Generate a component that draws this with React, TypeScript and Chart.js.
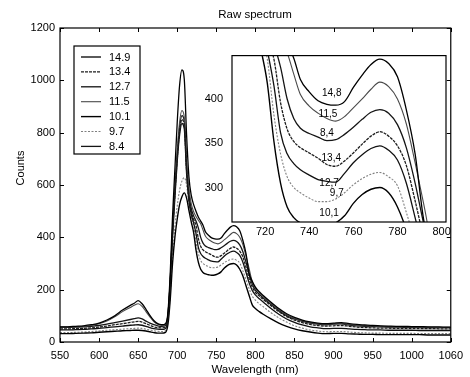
import React, { useEffect, useRef } from 'react';
import { Chart, registerables } from 'chart.js';

Chart.register(...registerables);

// ---------- data ----------
const wavelengths = [550, 560, 570, 580, 590, 600, 610, 620, 630, 640,
  645, 650, 655, 660, 665, 670, 675, 680, 685,
  688, 691, 694, 697, 700, 703, 706, 709, 712, 715, 718, 721, 724, 727, 730, 733, 736,
  740, 744, 748, 752, 756, 760, 764, 768, 772, 776, 780, 784, 788, 792, 796, 800,
  805, 810,
  820, 830, 840, 850, 860, 870, 880, 890, 900, 910, 920, 930, 940, 950, 960, 970, 980, 990, 1000, 1010, 1020, 1030, 1040, 1050];

const s149 = [58, 58, 60, 62, 66, 72, 84, 100, 122, 140,
  148, 158, 146, 125, 102, 82, 70, 66, 70,
  110, 260, 480, 660, 840, 980, 1040, 1005, 790, 630, 560, 525, 500, 478, 462, 446, 422,
  408, 398, 394, 393, 397, 413, 427, 439, 445, 440, 425, 388, 338, 262, 232, 210,
  192, 178,
  152, 128, 108, 94, 84, 77, 72, 70, 72, 74, 70, 67, 65, 63, 62, 61, 60, 60, 59, 59, 58, 58, 57, 57];

const s134 = [50, 50, 51, 52, 54, 57, 61, 66, 70, 75,
  77, 79, 76, 70, 64, 58, 55, 54, 57,
  95, 225, 415, 565, 700, 805, 850, 830, 655, 550, 498, 468, 445, 396, 366, 352, 345,
  339, 333, 326, 324, 330, 339, 349, 358, 363, 358, 347, 325, 285, 242, 210, 190,
  176, 163,
  139, 116, 97, 84, 74, 67, 63, 61, 62, 63, 60, 57, 55, 54, 53, 53, 52, 52, 52, 51, 51, 51, 50, 50];

const s127 = [46, 46, 47, 48, 50, 52, 55, 58, 61, 64,
  65, 66, 64, 60, 55, 51, 49, 48, 52,
  88, 215, 400, 550, 690, 790, 835, 815, 642, 540, 488, 455, 415, 362, 338, 327, 320,
  314, 309, 307, 306, 316, 328, 337, 344, 347, 342, 331, 305, 266, 226, 197, 180,
  165, 153,
  128, 106, 88, 75, 65, 58, 54, 51, 52, 52, 50, 48, 47, 46, 46, 45, 45, 45, 45, 44, 44, 44, 44, 44];

const s115 = [57, 57, 58, 60, 63, 70, 80, 96, 116, 132,
  140, 146, 136, 116, 96, 78, 68, 64, 68,
  105, 240, 440, 590, 730, 840, 885, 860, 690, 585, 528, 498, 480, 465, 452, 428, 405,
  392, 384, 378, 375, 380, 390, 400, 411, 419, 414, 400, 372, 328, 280, 230, 205,
  188, 173,
  148, 124, 104, 91, 81, 74, 70, 68, 70, 71, 67, 64, 62, 61, 60, 59, 58, 58, 57, 57, 57, 56, 56, 56];

const s101 = [32, 32, 33, 34, 35, 37, 39, 41, 43, 44,
  45, 45, 44, 42, 39, 36, 34, 34, 37,
  65, 160, 300, 400, 470, 525, 555, 570, 550, 502, 458, 418, 352, 305, 278, 266, 260,
  257, 255, 256, 260, 268, 282, 292, 298, 300, 294, 278, 252, 215, 178, 142, 128,
  116, 106,
  88, 72, 60, 50, 43, 38, 34, 32, 33, 33, 31, 30, 29, 29, 28, 28, 28, 28, 28, 28, 27, 27, 27, 27];

const s97 = [36, 36, 37, 38, 40, 42, 45, 47, 49, 51,
  52, 53, 52, 49, 46, 43, 41, 40, 43,
  75, 180, 330, 440, 520, 580, 615, 628, 600, 530, 478, 445, 382, 338, 312, 300, 294,
  288, 284, 284, 287, 294, 303, 310, 315, 317, 312, 302, 272, 238, 204, 175, 160,
  146, 135,
  112, 92, 76, 62, 53, 46, 42, 39, 40, 40, 38, 36, 35, 34, 34, 33, 33, 33, 33, 32, 32, 32, 32, 32];

const s84 = [56, 56, 57, 58, 60, 63, 68, 74, 80, 86,
  89, 92, 88, 80, 72, 66, 62, 60, 63,
  100, 230, 425, 575, 715, 820, 865, 845, 670, 565, 510, 482, 462, 436, 400, 378, 367,
  361, 357, 353, 354, 360, 368, 377, 385, 388, 384, 371, 345, 305, 258, 222, 198,
  182, 168,
  143, 120, 101, 88, 79, 72, 68, 66, 68, 69, 65, 62, 60, 59, 58, 57, 57, 56, 56, 56, 55, 55, 55, 55];

const seriesLabels = ['14.9', '13.4', '12.7', '11.5', '10.1', '9.7', '8.4'];
const seriesValues = [s149, s134, s127, s115, s101, s97, s84];

const xTickValues = [550, 600, 650, 700, 750, 800, 850, 900, 950, 1000, 1050];
const xTickLabels = ['550', '600', '650', '700', '750', '800', '850', '900', '950', '1000', '1060'];
const yTickValues = [0, 200, 400, 600, 800, 1000, 1200];

const insetXTicks = [720, 740, 760, 780, 800];
const insetYTicks = [300, 350, 400];
const insetLabels = ['14,8', '11,5', '8,4', '13,4', '12,7', '9,7', '10,1'];
const insetLabelX = [750.2, 748.5, 748, 750, 749, 752.5, 749];
const insetLabelY = [406, 383, 361, 333, 305, 294, 271];

// ---------- styles ----------
const FONT = '"Liberation Sans", Arial, Helvetica, sans-serif';
const lineStyles = [
  { color: '#000000', width: 1.3, dash: [] as number[] },
  { color: '#1c1c1c', width: 1.3, dash: [3, 1] },
  { color: '#111111', width: 1.3, dash: [] as number[] },
  { color: '#4a4a4a', width: 1.1, dash: [] as number[] },
  { color: '#000000', width: 1.4, dash: [] as number[] },
  { color: '#808080', width: 1.1, dash: [2, 1.5] },
  { color: '#151515', width: 1.3, dash: [] as number[] },
];

function makeDatasets() {
  return seriesValues.map((vals, k) => ({
    label: seriesLabels[k],
    data: wavelengths.map((w, i) => ({ x: w, y: vals[i] })),
    borderColor: lineStyles[k].color,
    borderWidth: lineStyles[k].width,
    borderDash: lineStyles[k].dash,
    pointRadius: 0,
    fill: false,
    cubicInterpolationMode: 'monotone' as const,
  }));
}

const mainDecor = {
  id: 'mainDecor',
  beforeDraw(chart: any) {
    const { ctx, width, height } = chart;
    ctx.save();
    ctx.fillStyle = '#ffffff';
    ctx.fillRect(0, 0, width, height);
    ctx.restore();
  },
  afterDraw(chart: any) {
    const { ctx, chartArea: a } = chart;
    const x = chart.scales.x;
    const y = chart.scales.y;
    ctx.save();
    ctx.strokeStyle = '#000';
    ctx.lineWidth = 1.2;
    ctx.strokeRect(a.left, a.top, a.right - a.left, a.bottom - a.top);
    ctx.lineWidth = 1;
    ctx.beginPath();
    xTickValues.forEach((v) => {
      const px = Math.round(x.getPixelForValue(v)) + 0.5;
      ctx.moveTo(px, a.bottom); ctx.lineTo(px, a.bottom - 4);
      ctx.moveTo(px, a.top); ctx.lineTo(px, a.top + 4);
    });
    yTickValues.forEach((v) => {
      const py = Math.round(y.getPixelForValue(v)) + 0.5;
      ctx.moveTo(a.left, py); ctx.lineTo(a.left + 4, py);
      ctx.moveTo(a.right, py); ctx.lineTo(a.right - 4, py);
    });
    ctx.stroke();

    // titles
    ctx.fillStyle = '#000';
    ctx.textAlign = 'center';
    ctx.textBaseline = 'middle';
    ctx.font = `11.5px ${FONT}`;
    ctx.fillText('Raw spectrum', 255, 15);
    ctx.fillText('Wavelength (nm)', 255, 370);
    ctx.save();
    ctx.translate(21, 168);
    ctx.rotate(-Math.PI / 2);
    ctx.font = `11px ${FONT}`;
    ctx.fillText('Counts', 0, 0);
    ctx.restore();

    // legend
    const lx = 74, ly = 46, lw = 66, lh = 108;
    ctx.fillStyle = '#fff';
    ctx.fillRect(lx, ly, lw, lh);
    ctx.strokeStyle = '#000';
    ctx.lineWidth = 1.2;
    ctx.strokeRect(lx, ly, lw, lh);
    ctx.font = `11px ${FONT}`;
    ctx.textAlign = 'left';
    chart.data.datasets.forEach((ds: any, i: number) => {
      const yy = 57 + i * 14.9;
      ctx.strokeStyle = ds.borderColor;
      ctx.lineWidth = ds.borderWidth;
      ctx.setLineDash(ds.borderDash || []);
      ctx.beginPath();
      ctx.moveTo(81, yy);
      ctx.lineTo(101, yy);
      ctx.stroke();
      ctx.setLineDash([]);
      ctx.fillStyle = '#000';
      ctx.fillText(ds.label, 109, yy + 0.5);
    });
    ctx.restore();
  },
};

const insetDecor = {
  id: 'insetDecor',
  beforeDraw(chart: any) {
    const { ctx, chartArea: a } = chart;
    ctx.save();
    ctx.fillStyle = '#ffffff';
    ctx.fillRect(a.left, a.top, a.right - a.left, a.bottom - a.top);
    ctx.restore();
  },
  afterDraw(chart: any) {
    const { ctx, chartArea: a } = chart;
    const x = chart.scales.x;
    const y = chart.scales.y;
    ctx.save();
    ctx.strokeStyle = '#000';
    ctx.lineWidth = 1.2;
    ctx.strokeRect(a.left, a.top, a.right - a.left, a.bottom - a.top);
    ctx.fillStyle = '#000';
    ctx.font = `10px ${FONT}`;
    ctx.textAlign = 'center';
    ctx.textBaseline = 'middle';
    insetLabels.forEach((t, i) => {
      ctx.fillText(t, x.getPixelForValue(insetLabelX[i]), y.getPixelForValue(insetLabelY[i]));
    });
    ctx.restore();
  },
};

const tickFont = { family: FONT, size: 11 };
const plainLabel = (v: any) => String(v);

export default function App() {
  const mainRef = useRef<HTMLCanvasElement | null>(null);
  const insetRef = useRef<HTMLCanvasElement | null>(null);

  useEffect(() => {
    if (!mainRef.current || !insetRef.current) return;
    const main = new Chart(mainRef.current, {
      type: 'line',
      data: { datasets: makeDatasets() as any },
      options: {
        animation: false,
        responsive: false,
        devicePixelRatio: 1,
        layout: { padding: { left: 0, right: 17, top: 28, bottom: 0 } },
        plugins: { legend: { display: false }, tooltip: { enabled: false }, title: { display: false } },
        scales: {
          x: {
            type: 'linear',
            min: 550,
            max: 1050,
            afterBuildTicks: (s: any) => { s.ticks = xTickValues.map((v) => ({ value: v })); },
            afterFit: (s: any) => { s.height = 35; },
            ticks: {
              callback: (_v: any, i: number) => xTickLabels[i],
              font: tickFont, color: '#000', padding: 7, maxRotation: 0, autoSkip: false,
            },
            grid: { display: false, drawTicks: false },
            border: { display: false },
          },
          y: {
            type: 'linear',
            min: 0,
            max: 1200,
            afterBuildTicks: (s: any) => { s.ticks = yTickValues.map((v) => ({ value: v })); },
            afterFit: (s: any) => { s.width = 60; },
            ticks: { callback: plainLabel, font: tickFont, color: '#000', padding: 5 },
            grid: { display: false, drawTicks: false },
            border: { display: false },
          },
        },
      },
      plugins: [mainDecor],
    });

    const inset = new Chart(insetRef.current, {
      type: 'line',
      data: { datasets: makeDatasets() as any },
      options: {
        animation: false,
        responsive: false,
        devicePixelRatio: 1,
        layout: { padding: { left: 0, right: 14, top: 9, bottom: 0 } },
        plugins: { legend: { display: false }, tooltip: { enabled: false }, title: { display: false } },
        scales: {
          x: {
            type: 'linear',
            min: 705,
            max: 802,
            afterBuildTicks: (s: any) => { s.ticks = insetXTicks.map((v) => ({ value: v })); },
            afterFit: (s: any) => { s.height = 23; },
            ticks: { callback: plainLabel, font: tickFont, color: '#000', padding: 3, maxRotation: 0, autoSkip: false },
            grid: { display: false, drawTicks: false },
            border: { display: false },
          },
          y: {
            type: 'linear',
            min: 261,
            max: 449,
            afterBuildTicks: (s: any) => { s.ticks = insetYTicks.map((v) => ({ value: v })); },
            afterFit: (s: any) => { s.width = 42; },
            ticks: { callback: plainLabel, font: tickFont, color: '#000', padding: 9 },
            grid: { display: false, drawTicks: false },
            border: { display: false },
          },
        },
      },
      plugins: [insetDecor],
    });

    return () => {
      main.destroy();
      inset.destroy();
    };
  }, []);

  return (
    <div style={{ position: 'fixed', left: 0, top: 0, width: 470, height: 377, background: '#fff' }}>
      <canvas ref={mainRef} width={470} height={377}
        style={{ position: 'absolute', left: 0, top: 0, width: 470, height: 377 }} />
      <canvas ref={insetRef} width={270} height={205}
        style={{ position: 'absolute', left: 190, top: 40, width: 270, height: 205 }} />
    </div>
  );
}
